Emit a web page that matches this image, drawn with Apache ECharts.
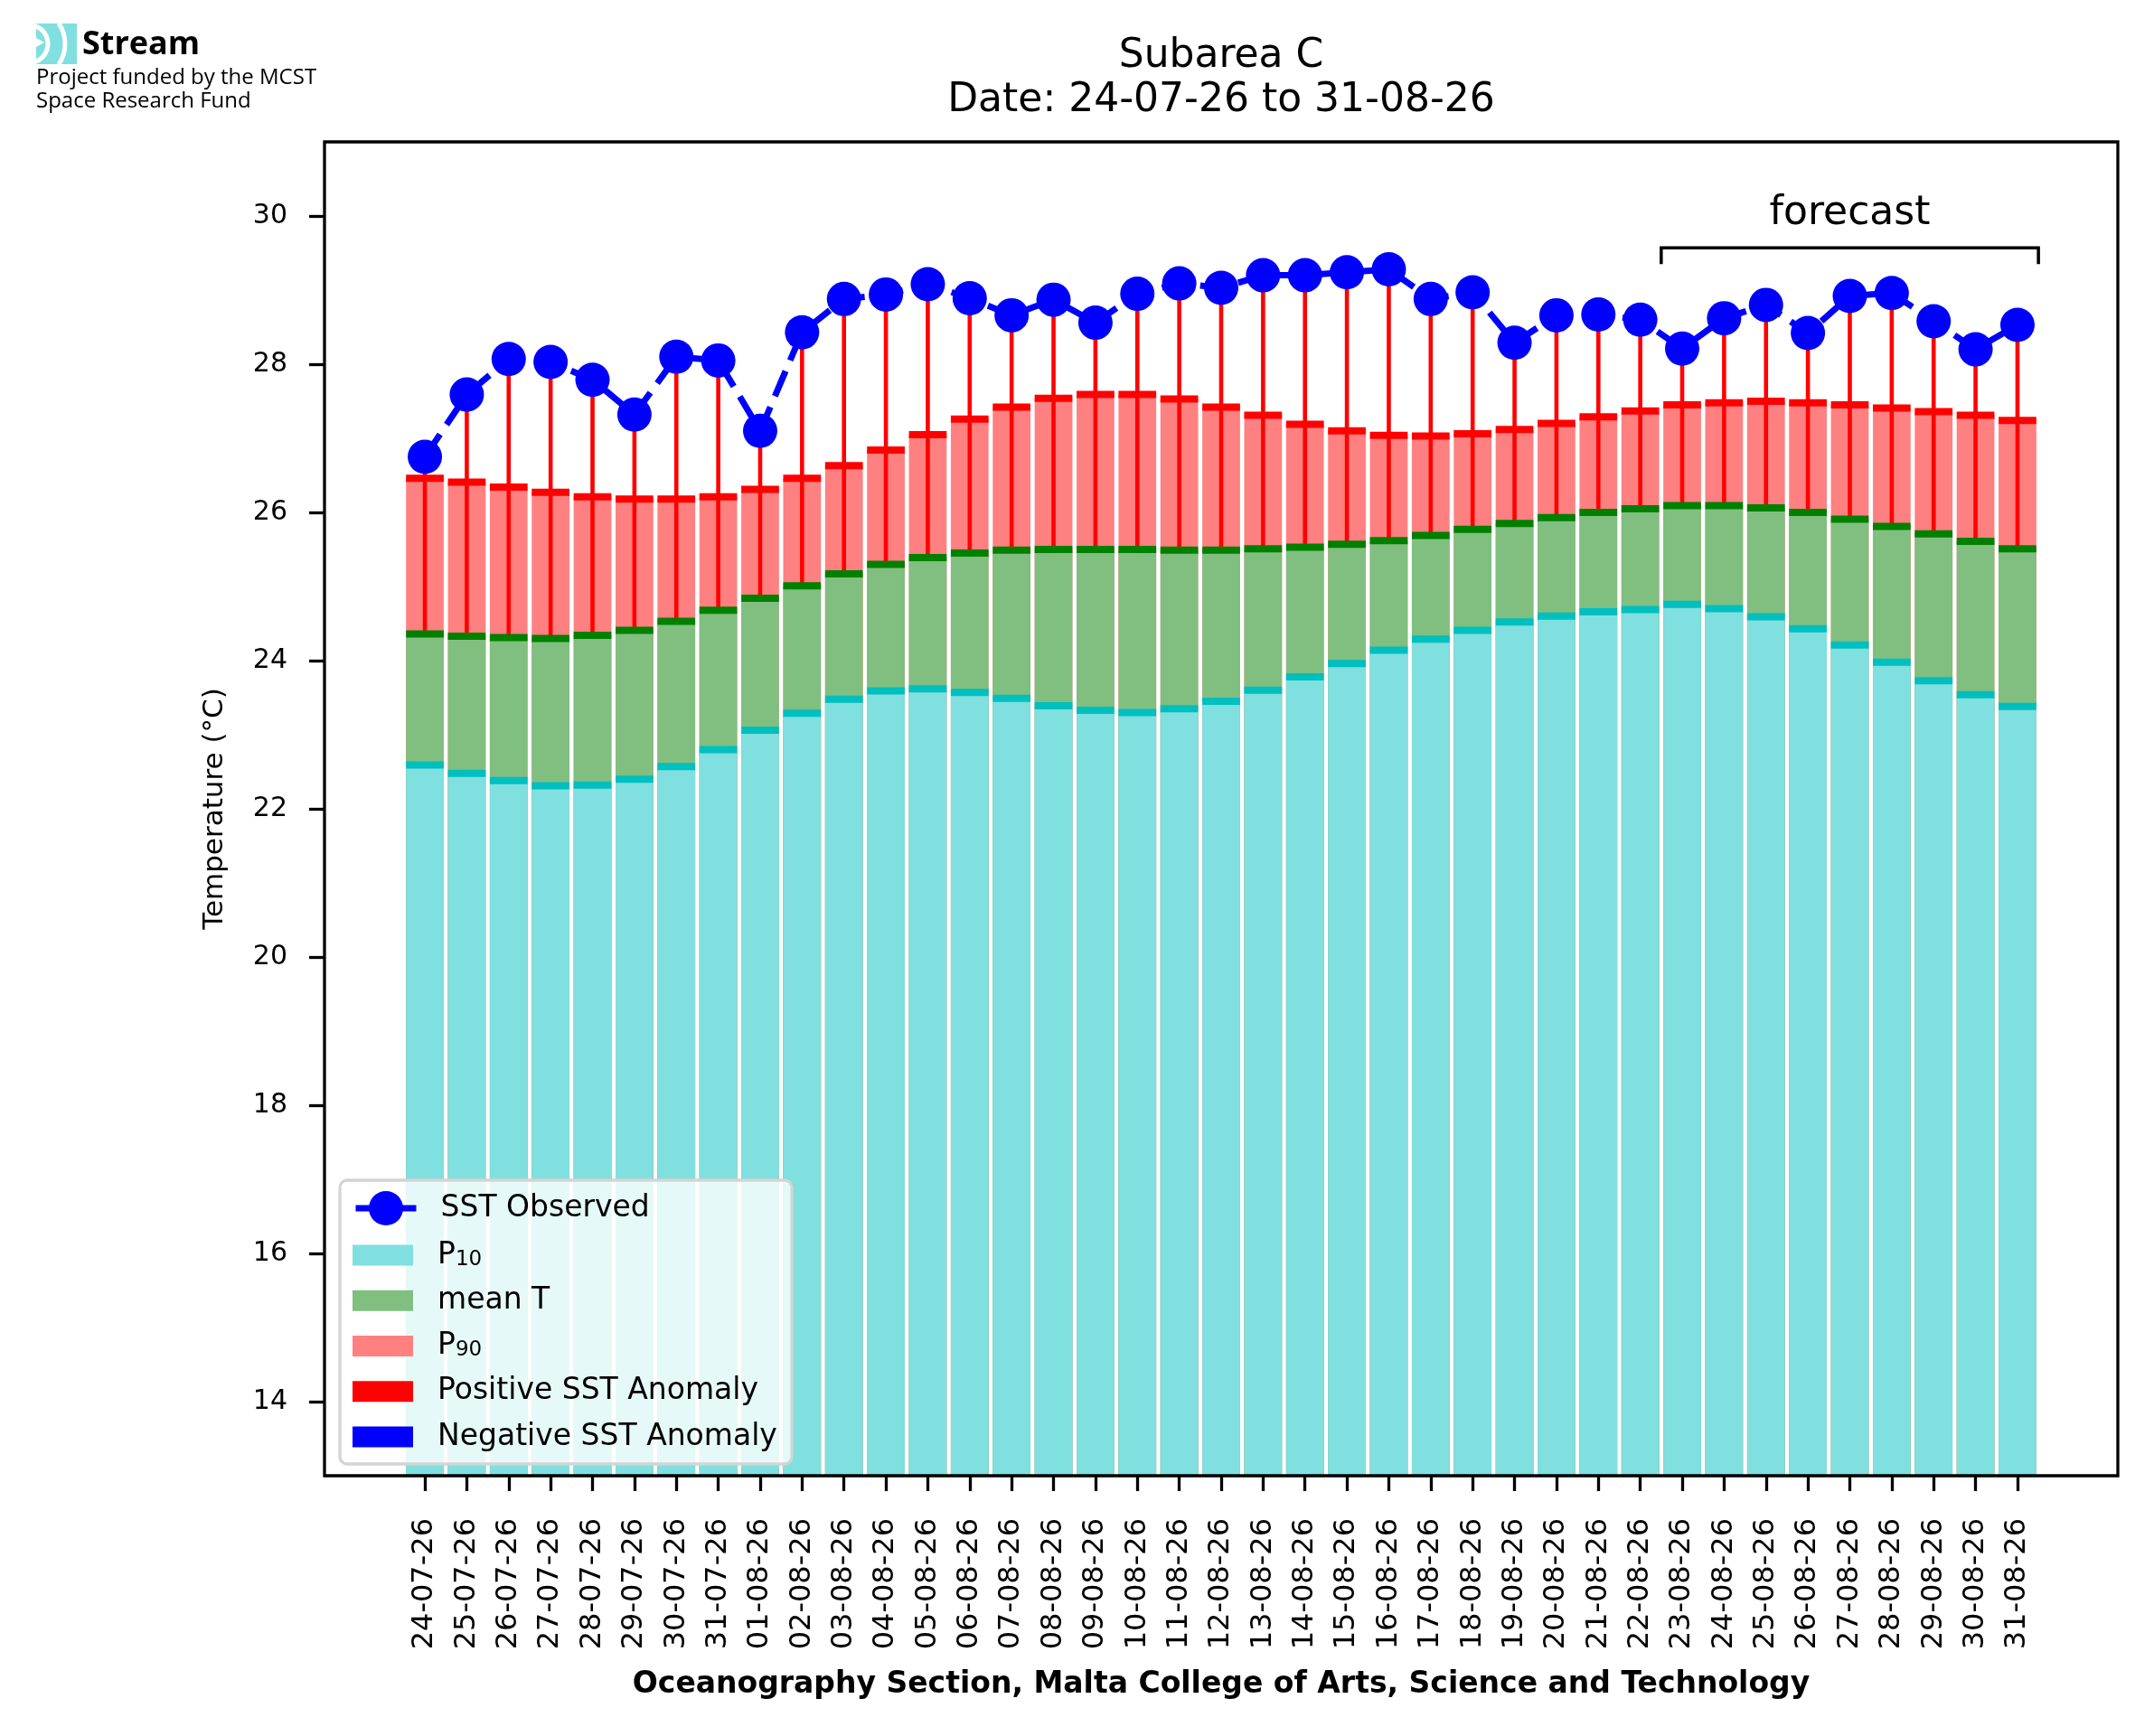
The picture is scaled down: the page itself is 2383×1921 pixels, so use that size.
<!DOCTYPE html>
<html>
<head>
<meta charset="utf-8">
<title>Subarea C - SST</title>
<script src="https://cdn.jsdelivr.net/npm/echarts@6/dist/echarts.min.js"></script>
<style>
html, body { margin: 0; padding: 0; background: #fff; }
#chart { width: 2383px; height: 1921px; }
</style>
</head>
<body>
<div id="chart"></div>
<script>
// daily values
var dates = ['24-07-26', '25-07-26', '26-07-26', '27-07-26', '28-07-26', '29-07-26', '30-07-26', '31-07-26',
  '01-08-26', '02-08-26', '03-08-26', '04-08-26', '05-08-26', '06-08-26', '07-08-26', '08-08-26',
  '09-08-26', '10-08-26', '11-08-26', '12-08-26', '13-08-26', '14-08-26', '15-08-26', '16-08-26',
  '17-08-26', '18-08-26', '19-08-26', '20-08-26', '21-08-26', '22-08-26', '23-08-26', '24-08-26',
  '25-08-26', '26-08-26', '27-08-26', '28-08-26', '29-08-26', '30-08-26', '31-08-26'];

var sstObserved = [26.75, 27.59, 28.07, 28.03, 27.79, 27.32, 28.10, 28.05, 27.10, 28.43, 28.88, 28.94, 29.08,
  28.89, 28.66, 28.87, 28.56, 28.95, 29.09, 29.03, 29.20, 29.20, 29.24, 29.28, 28.88, 28.97, 28.29,
  28.66, 28.67, 28.60, 28.21, 28.62, 28.80, 28.42, 28.92, 28.96, 28.58, 28.20, 28.53];

var p10 = [22.59, 22.48, 22.38, 22.31, 22.32, 22.40, 22.57, 22.80, 23.06, 23.29, 23.48, 23.59, 23.62,
  23.57, 23.49, 23.39, 23.33, 23.30, 23.35, 23.45, 23.60, 23.78, 23.96, 24.14, 24.29, 24.41, 24.52,
  24.60, 24.66, 24.69, 24.76, 24.70, 24.59, 24.43, 24.21, 23.98, 23.73, 23.54, 23.38];

var meanT = [24.36, 24.33, 24.31, 24.30, 24.34, 24.41, 24.53, 24.68, 24.84, 25.01, 25.17, 25.30, 25.39,
  25.45, 25.49, 25.50, 25.50, 25.50, 25.49, 25.49, 25.51, 25.53, 25.57, 25.62, 25.69, 25.77, 25.85,
  25.93, 26.00, 26.05, 26.09, 26.09, 26.06, 26.00, 25.91, 25.81, 25.71, 25.61, 25.51];

var p90 = [26.46, 26.41, 26.34, 26.27, 26.21, 26.18, 26.18, 26.21, 26.31, 26.46, 26.63, 26.84, 27.05,
  27.26, 27.42, 27.54, 27.59, 27.59, 27.53, 27.42, 27.31, 27.19, 27.10, 27.04, 27.03, 27.06, 27.12,
  27.20, 27.29, 27.37, 27.45, 27.48, 27.50, 27.48, 27.45, 27.41, 27.36, 27.31, 27.24];

var yTicks = [14, 16, 18, 20, 22, 24, 26, 28, 30];

// forecast bracket (first / last forecast day, heights in degC)
var forecastFrom = '23-08-26';
var forecastTo = '31-08-26';
var bracketTop = 29.57, bracketFoot = 29.35, forecastTextAt = 30.03;

var FONT = 'DejaVu Sans';

// axes box like matplotlib: bars 0.9 wide, 5% margins
var frame = { left: 359, top: 157, width: 1984, height: 1476 };
var n = dates.length;
var pad = 0.05 * (n - 1 + 0.9);
var span = (n - 1 + 0.9) + 2 * pad;
var unit = frame.width / span;
var barsLeft = frame.left + (0.45 + pad - 0.5) * unit;

var positive = [], negative = [];
for (var i = 0; i < n; i++) {
  if (sstObserved[i] >= meanT[i]) positive.push([i, meanT[i], sstObserved[i]]);
  else negative.push([i, meanT[i], sstObserved[i]]);
}
var bands = dates.map(function (d, i) { return [i, p10[i], meanT[i], p90[i]]; });

function anomalyLine(color) {
  return function (params, api) {
    var a = api.coord([api.value(0), api.value(1)]);
    var b = api.coord([api.value(0), api.value(2)]);
    return { type: 'line', shape: { x1: a[0], y1: a[1], x2: b[0], y2: b[1] },
             style: { stroke: color, lineWidth: 4.6 } };
  };
}

var chart = echarts.init(document.getElementById('chart'));

var option = {
  animation: false,
  backgroundColor: '#fff',
  textStyle: { fontFamily: FONT },
  title: {
    text: 'Subarea C\nDate: 24-07-26 to 31-08-26',
    left: frame.left + frame.width / 2, top: 38, padding: 0,
    textAlign: 'center',
    textStyle: { fontFamily: FONT, fontSize: 44, fontWeight: 'normal', color: '#000', lineHeight: 49 }
  },
  legend: [{
    data: ['SST Observed'],
    orient: 'vertical', left: 390, top: 1318, padding: 0,
    itemWidth: 67, itemHeight: 47.5, selectedMode: false, z: 4,
    lineStyle: { type: 'solid', width: 7 },
    textStyle: { fontFamily: FONT, fontSize: 33, color: '#000', lineHeight: 33, padding: [0, 0, 0, 22] }
  }, {
    data: ['P10', 'mean T', 'P90', 'Positive SST Anomaly', 'Negative SST Anomaly'],
    orient: 'vertical', left: 390, top: 1372.5, padding: 0,
    itemWidth: 67, itemHeight: 23, itemGap: 17.25, icon: 'rect', selectedMode: false, z: 4,
    formatter: function (name) {
      var m = /^P(\d+)$/.exec(name);
      return m ? 'P{sub|' + m[1] + '}' : name;
    },
    textStyle: {
      fontFamily: FONT, fontSize: 33, color: '#000', lineHeight: 33, padding: [0, 0, 0, 22],
      rich: { sub: { fontFamily: FONT, fontSize: 23, lineHeight: 33, verticalAlign: 'bottom', color: '#000' } }
    }
  }],
  graphic: [
    // legend frame
    { type: 'rect', z: 3.5, shape: { x: 376, y: 1306, width: 500, height: 314, r: 8 },
      style: { fill: 'rgba(255,255,255,0.8)', stroke: '#d4d4d4', lineWidth: 3.3 } },
    // logo
    { type: 'rect', shape: { x: 40, y: 26, width: 45, height: 45 }, style: { fill: '#80e0e0' } },
    { type: 'arc', shape: { cx: 32, cy: 48.5, r: 21, startAngle: -1.25, endAngle: 1.25 },
      style: { stroke: '#fff', lineWidth: 5, fill: null } },
    { type: 'arc', shape: { cx: 32, cy: 48.5, r: 40, startAngle: -0.6, endAngle: 0.6 },
      style: { stroke: '#fff', lineWidth: 5, fill: null } },
    { type: 'polygon', shape: { points: [[40, 42], [49, 47], [40, 52]] }, style: { fill: '#fff' } },
    { type: 'text', style: { x: 91, y: 50, text: 'Stream', font: 'bold 36px "Open Sans"', fill: '#000', verticalAlign: 'middle' } },
    { type: 'text', style: { x: 40, y: 86, text: 'Project funded by the MCST', font: '24px "Open Sans"', fill: '#000', verticalAlign: 'middle' } },
    { type: 'text', style: { x: 40, y: 112, text: 'Space Research Fund', font: '24px "Open Sans"', fill: '#000', verticalAlign: 'middle' } }
  ],
  grid: [
    { left: frame.left, top: frame.top, width: frame.width, height: frame.height,
      show: true, borderColor: '#000', borderWidth: 3.3, backgroundColor: 'transparent', z: 10 },
    { left: barsLeft, top: frame.top, width: n * unit, height: frame.height }
  ],
  xAxis: [
    { gridIndex: 0, type: 'value', min: 0, max: 1, show: false },
    { gridIndex: 1, type: 'category', data: dates, boundaryGap: true,
      axisLine: { show: false },
      axisTick: { show: true, alignWithLabel: true, length: 17, lineStyle: { color: '#000', width: 3.3 } },
      axisLabel: { interval: 0, rotate: 90, margin: 47, fontFamily: FONT, fontSize: 32, color: '#000' },
      name: 'Oceanography Section, Malta College of Arts, Science and Technology',
      nameLocation: 'middle', nameGap: 215,
      nameTextStyle: { fontFamily: FONT, fontSize: 33, fontWeight: 'bold', color: '#000', verticalAlign: 'top' }
    }
  ],
  yAxis: [
    { gridIndex: 0, type: 'value', min: 13, max: 31,
      axisLine: { show: false }, splitLine: { show: false },
      axisTick: { show: true, length: 17, customValues: yTicks, lineStyle: { color: '#000', width: 3.3 } },
      axisLabel: { customValues: yTicks, margin: 41, fontFamily: FONT, fontSize: 30, color: '#000' },
      name: 'Temperature (°C)', nameLocation: 'middle', nameGap: 106,
      nameTextStyle: { fontFamily: FONT, fontSize: 31, color: '#000' }
    },
    { gridIndex: 1, type: 'value', min: 13, max: 31, show: false }
  ],
  series: [
    { name: 'P90', type: 'bar', xAxisIndex: 1, yAxisIndex: 1, data: p90, z: 1,
      barWidth: '90%', barGap: '-100%', itemStyle: { color: '#ff8080' } },
    { name: 'mean T', type: 'bar', xAxisIndex: 1, yAxisIndex: 1, data: meanT, z: 1,
      barWidth: '90%', barGap: '-100%', itemStyle: { color: '#80bf80' } },
    { name: 'P10', type: 'bar', xAxisIndex: 1, yAxisIndex: 1, data: p10, z: 1,
      barWidth: '90%', barGap: '-100%', itemStyle: { color: '#80dfdf' } },
    { name: 'Positive SST Anomaly', type: 'custom', xAxisIndex: 1, yAxisIndex: 1, z: 2,
      itemStyle: { color: '#ff0000' }, data: positive, encode: { x: 0, y: [1, 2] },
      renderItem: anomalyLine('#ff0000') },
    { name: 'Negative SST Anomaly', type: 'custom', xAxisIndex: 1, yAxisIndex: 1, z: 2,
      itemStyle: { color: '#0000ff' }, data: negative, encode: { x: 0, y: [1, 2] },
      renderItem: anomalyLine('#0000ff') },
    { name: 'levels', type: 'custom', xAxisIndex: 1, yAxisIndex: 1, z: 2.5,
      data: bands, encode: { x: 0, y: [1, 2, 3] },
      renderItem: function (params, api) {
        var w = api.size([1, 0])[0] * 0.9;
        var colors = ['#00bfbf', '#008000', '#ff0000'];
        var kids = [];
        for (var k = 0; k < 3; k++) {
          var p = api.coord([api.value(0), api.value(k + 1)]);
          kids.push({ type: 'rect', shape: { x: p[0] - w / 2, y: p[1] - 4, width: w, height: 8 },
                      style: { fill: colors[k] } });
        }
        return { type: 'group', children: kids };
      } },
    { name: 'SST Observed', type: 'line', xAxisIndex: 1, yAxisIndex: 1, data: sstObserved, z: 3,
      symbol: 'circle', symbolSize: 38,
      itemStyle: { color: '#0000ff' },
      lineStyle: { color: '#0000ff', width: 7, type: [30, 13] } },
    { name: 'forecast', type: 'custom', xAxisIndex: 1, yAxisIndex: 1, z: 3,
      data: [[dates.indexOf(forecastFrom), bracketTop, dates.indexOf(forecastTo)]],
      encode: { x: 0, y: 1 },
      renderItem: function (params, api) {
        var half = api.size([1, 0])[0] / 2;
        var a = api.coord([api.value(0), bracketTop]);
        var b = api.coord([api.value(2), bracketTop]);
        var foot = api.coord([api.value(0), bracketFoot])[1];
        var txt = api.coord([(api.value(0) + api.value(2)) / 2, forecastTextAt]);
        var xl = a[0] - half, xr = b[0] + half;
        return { type: 'group', children: [
          { type: 'polyline', shape: { points: [[xl, foot], [xl, a[1]], [xr, a[1]], [xr, foot]] },
            style: { stroke: '#000', lineWidth: 3.5, fill: null } },
          { type: 'text', style: { x: txt[0], y: txt[1], text: 'forecast', font: '44px "DejaVu Sans"',
            fill: '#000', align: 'center', verticalAlign: 'middle' } }
        ] };
      } }
  ]
};

chart.setOption(option);
</script>
</body>
</html>
